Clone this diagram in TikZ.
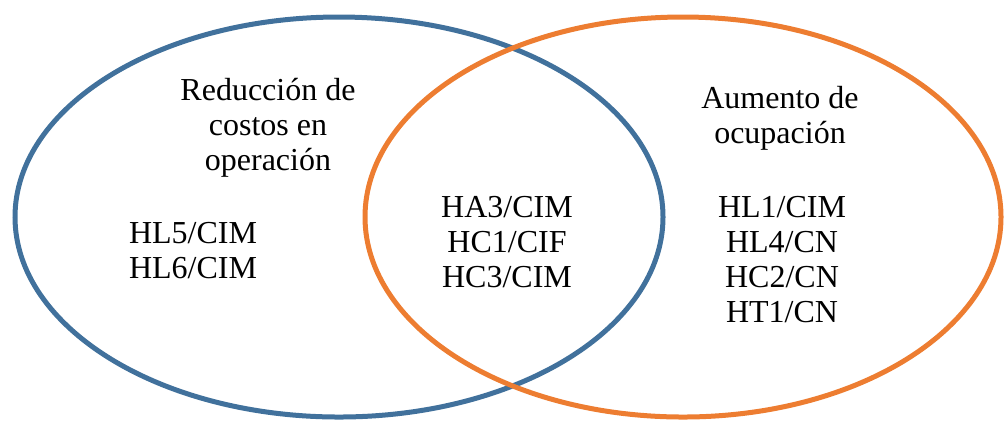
\documentclass[tikz,border=0pt]{standalone}
\usepackage{fontspec}
\setmainfont{Liberation Serif}
\definecolor{vennblue}{HTML}{41719C}
\definecolor{vennorange}{HTML}{ED7D31}
\begin{document}
\begin{tikzpicture}[x=0.5pt,y=-0.5pt]
\useasboundingbox (0,0) rectangle (1004,420);

\draw[vennblue, line width=2.5pt] (339,217) ellipse (324 and 200);
\draw[vennorange, line width=2.5pt] (683,217) ellipse (318 and 200);

\begin{scope}[every node/.style={align=center, anchor=base, inner sep=0pt,
  font=\fontsize{16}{17.5}\selectfont}]
\node(red) at(268,170) {Reducción de\\costos en\\operación};
\node(redlist) at(193,278) {HL5/CIM\\HL6/CIM};
\node(both) at(507,287) {HA3/CIM\\HC1/CIF\\HC3/CIM};
\node(aum) at(780,143) {Aumento de\\ocupación};
\node(aumlist) at(782,322) {HL1/CIM\\HL4/CN\\HC2/CN\\HT1/CN};
\end{scope}

\end{tikzpicture}
\end{document}
